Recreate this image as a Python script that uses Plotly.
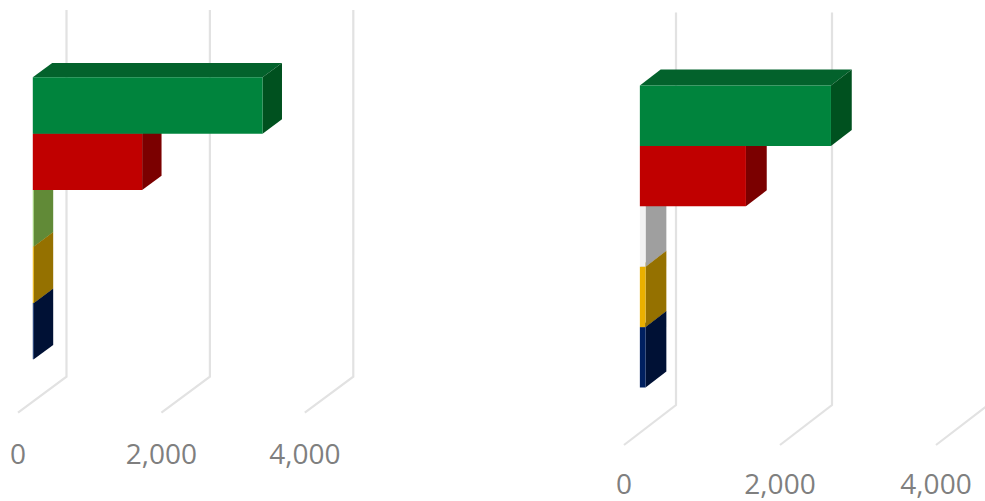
import plotly.graph_objects as go

WIDTH, HEIGHT = 985, 501

# Bars listed from the top of each panel downwards
left_values = [3205, 1525, 14, 14, 14]
right_values = [2450, 1360, 73, 73, 73]

left_front = ["#00843d", "#c00000", "#97cc6b", "#e8b000", "#0a2a66"]
left_top = ["#03622c", "#8f0000", "#6f9c40", "#ad8400", "#001a4a"]
left_side = ["#00511f", "#7b0000", "#618a37", "#957100", "#001135"]

right_front = ["#00843d", "#c00000", "#f2f2f2", "#eab000", "#002060"]
right_top = ["#03622c", "#8f0000", "#b5b5b5", "#ad8400", "#001a4a"]
right_side = ["#00511f", "#7b0000", "#9f9f9f", "#957100", "#001135"]

tick_values = [0, 2000, 4000]
tick_labels = ["0", "2,000", "4,000"]

GRID_COLOR = "#e2e2e2"
LABEL_COLOR = "#7f7f7f"
BAR_DEPTH = (0.305, 0.705)   # front and back of the bars, as a fraction of the floor depth
PLOT_UNITS = 6.5             # plot height measured in bar heights
BOTTOM_GAP = 0.75            # space under the lowest bar, in bar heights

panels = [
    dict(xa="x", ya="y", x0=18, px_per_value=143.4 / 2000, floor=412.6, unit=56.4, dx=48.5, dy=36,
         left=0, right=362, axis_bottom=434.5,
         values=left_values, front=left_front, top=left_top, side=left_side),
    dict(xa="x2", ya="y2", x0=624, px_per_value=78 / 1000, floor=445, unit=60.4, dx=52, dy=40,
         left=600, right=985, axis_bottom=465,
         values=right_values, front=right_front, top=right_top, side=right_side),
]

fig = go.Figure()


def add_face(panel, points, color):
    xs, ys = zip(*points)
    fig.add_trace(go.Scatter(
        x=list(xs) + [xs[0]], y=list(ys) + [ys[0]],
        xaxis=panel["xa"], yaxis=panel["ya"],
        mode="none", fill="toself", fillcolor=color,
        hoverinfo="skip", showlegend=False,
    ))


for panel in panels:
    depth_x = panel["dx"] / panel["px_per_value"]
    depth_y = panel["dy"] / panel["unit"]

    def project(value, height, depth):
        """Oblique projection of (value, height, depth) onto the axis plane."""
        return value + depth * depth_x, height + depth * depth_y

    # Gridlines run across the floor and then up the back wall
    for tick in tick_values:
        pts = [project(tick, 0, 0), project(tick, 0, 1), project(tick, PLOT_UNITS, 1)]
        fig.add_trace(go.Scatter(
            x=[p[0] for p in pts], y=[p[1] for p in pts],
            xaxis=panel["xa"], yaxis=panel["ya"],
            mode="lines", line=dict(color=GRID_COLOR, width=2.2),
            hoverinfo="skip", showlegend=False,
        ))

    # Lowest bar first, so that each bar covers the depth faces of the one beneath it
    near, far = BAR_DEPTH
    count = len(panel["values"])
    for i in reversed(range(count)):
        value = panel["values"][i]
        low = BOTTOM_GAP + (count - 1 - i)
        high = low + 1
        add_face(panel, [project(0, high, near), project(value, high, near),
                         project(value, high, far), project(0, high, far)], panel["top"][i])
        add_face(panel, [project(value, low, near), project(value, low, far),
                         project(value, high, far), project(value, high, near)], panel["side"][i])
        add_face(panel, [project(0, low, near), project(value, low, near),
                         project(value, high, near), project(0, high, near)], panel["front"][i])


def x_axis(panel):
    scale = panel["px_per_value"]
    return dict(
        domain=[panel["left"] / WIDTH, panel["right"] / WIDTH],
        range=[(panel["left"] - panel["x0"]) / scale, (panel["right"] - panel["x0"]) / scale],
        tickmode="array", tickvals=tick_values, ticktext=tick_labels,
        tickfont=dict(family="Open Sans", size=28, color=LABEL_COLOR),
        showgrid=False, zeroline=False, showline=False, ticks="",
        anchor=panel["ya"], fixedrange=True,
    )


def y_axis(panel):
    unit = panel["unit"]
    return dict(
        domain=[(HEIGHT - panel["axis_bottom"]) / HEIGHT, 1],
        range=[(panel["floor"] - panel["axis_bottom"]) / unit, panel["floor"] / unit],
        visible=False, anchor=panel["xa"], fixedrange=True,
    )


fig.update_layout(
    width=WIDTH, height=HEIGHT,
    margin=dict(l=0, r=0, t=0, b=0),
    paper_bgcolor="white", plot_bgcolor="rgba(0,0,0,0)",
    showlegend=False,
    xaxis=x_axis(panels[0]), yaxis=y_axis(panels[0]),
    xaxis2=x_axis(panels[1]), yaxis2=y_axis(panels[1]),
)

fig.write_html("out.html", config=dict(displayModeBar=False))
